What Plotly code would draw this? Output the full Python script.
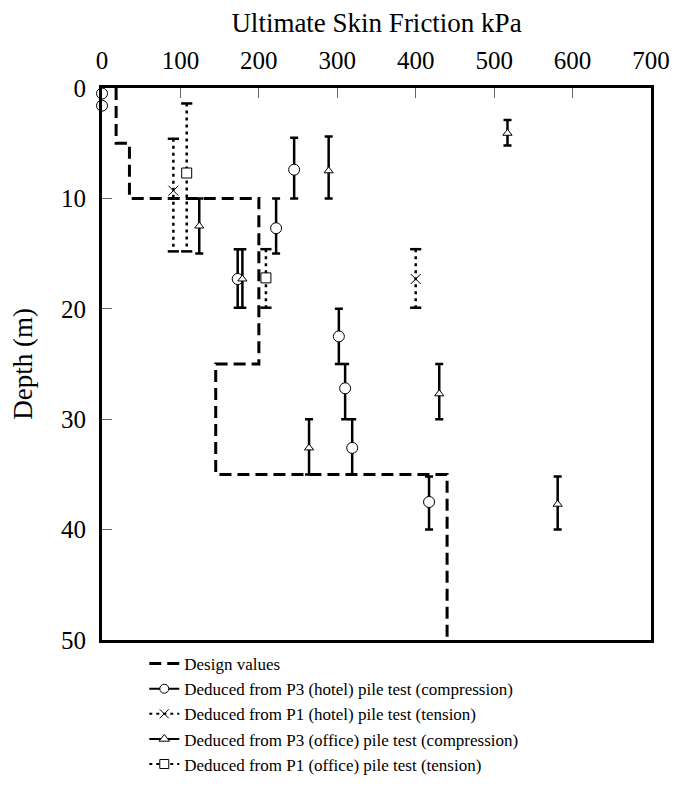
import plotly.graph_objects as go

FONT = "Liberation Serif"

# design values: stepped profile (depth breaks, friction over each layer)
design_depth = [0, 5, 10, 25, 35, 50]
design_friction = [18, 35, 200, 145, 440, 440]

# P3 (hotel) compression - circles
p3h_friction = [0, 0, 245, 222, 173, 302, 310, 319, 417]
p3h_depth = [0.5, 1.6, 7.4, 12.7, 17.3, 22.5, 27.2, 32.6, 37.5]
p3h_top = [0.5, 1.6, 4.5, 10, 14.6, 20, 25, 30, 35.2]
p3h_bottom = [0.5, 1.6, 10, 15, 19.9, 25, 30, 35, 40]

# P1 (hotel) tension - crosses
p1h_friction = [91, 400]
p1h_depth = [9.3, 17.3]
p1h_top = [4.6, 14.6]
p1h_bottom = [14.8, 19.9]

# P3 (office) compression - triangles
p3o_friction = [517, 289, 124, 179, 430, 264, 581]
p3o_depth = [4.1, 7.5, 12.5, 17.3, 27.7, 32.6, 37.7]
p3o_top = [2.9, 4.4, 10, 14.6, 25, 30, 35.2]
p3o_bottom = [5.2, 10, 15, 19.9, 30, 35, 40]

# P1 (office) tension - squares
p1o_friction = [108, 209]
p1o_depth = [7.7, 17.2]
p1o_top = [1.4, 14.6]
p1o_bottom = [14.8, 19.9]

fig = go.Figure()

fig.add_trace(go.Scatter(
    x=design_friction, y=design_depth, mode="lines", line_shape="vh",
    line=dict(color="black", width=3, dash="12px,6px"), showlegend=False,
))


def marker_style(symbol, size):
    # open symbols take their stroke from marker.color
    if symbol.endswith("-open"):
        return dict(symbol=symbol, size=size, color="black", line=dict(color="black", width=1))
    return dict(symbol=symbol, size=size, color="white", line=dict(color="black", width=1))


def solid_series(fx, d, top, bot, symbol, size):
    fig.add_trace(go.Scatter(
        x=fx, y=d, mode="markers", showlegend=False, cliponaxis=False,
        marker=marker_style(symbol, size),
        error_y=dict(type="data", symmetric=False,
                     array=[b - v for b, v in zip(bot, d)],
                     arrayminus=[v - t for t, v in zip(top, d)],
                     color="black", thickness=2.5, width=4),
    ))


def dotted_series(fx, d, top, bot, symbol, size):
    xs, ys = [], []
    for f, t, b in zip(fx, top, bot):
        xs += [f, f, None]
        ys += [t, b, None]
    fig.add_trace(go.Scatter(
        x=xs, y=ys, mode="lines", showlegend=False,
        line=dict(color="black", width=2.5, dash="3px,4px"),
    ))
    fig.add_trace(go.Scatter(
        x=fx + fx, y=top + bot, mode="markers", showlegend=False,
        marker=dict(symbol="line-ew", size=8, line=dict(color="black", width=2.5)),
    ))
    fig.add_trace(go.Scatter(
        x=fx, y=d, mode="markers", showlegend=False,
        marker=marker_style(symbol, size),
    ))


solid_series(p3h_friction, p3h_depth, p3h_top, p3h_bottom, "circle", 11)
dotted_series(p1h_friction, p1h_depth, p1h_top, p1h_bottom, "x-thin-open", 10)
solid_series(p3o_friction, p3o_depth, p3o_top, p3o_bottom, "triangle-up", 8)
dotted_series(p1o_friction, p1o_depth, p1o_top, p1o_bottom, "square", 10)

# legend entries
legend_items = [
    ("Design values", "12px,6px", None, 3),
    ("Deduced from P3 (hotel) pile test (compression)", "solid", "circle", 2),
    ("Deduced from P1 (hotel) pile test (tension)", "3px,4px", "x-thin-open", 2),
    ("Deduced from P3 (office) pile test (compression)", "solid", "triangle-up", 2),
    ("Deduced from P1 (office) pile test (tension)", "3px,4px", "square", 2),
]
for name, dash, sym, w in legend_items:
    fig.add_trace(go.Scatter(
        x=[None], y=[None], name=name,
        mode="lines" if sym is None else "lines+markers",
        line=dict(color="black", width=w, dash=dash),
        marker=marker_style(sym or "circle", 9),
    ))

axis_common = dict(
    showline=True, linecolor="black", linewidth=3, mirror=True,
    ticks="inside", ticklen=10, tickwidth=1, tickcolor="#666",
    showgrid=False, zeroline=False,
)

# body margin of the page is 8px, so the figure is 8px smaller than the window
fig.update_layout(
    width=674, height=795,
    margin=dict(l=92, r=24, t=74, b=163),
    paper_bgcolor="white", plot_bgcolor="white",
    font=dict(family=FONT, color="black", size=18),
    xaxis=dict(
        axis_common, side="top", range=[0, 700], dtick=100,
        tickfont=dict(family=FONT, size=25), ticklabelstandoff=6,
        title=dict(text="Ultimate Skin Friction kPa", font=dict(family=FONT, size=27), standoff=8),
    ),
    yaxis=dict(
        axis_common, range=[50, 0], dtick=10,
        tickfont=dict(family=FONT, size=25), ticklabelstandoff=8,
        title=dict(text="Depth (m)", font=dict(family=FONT, size=27), standoff=22),
    ),
    legend=dict(
        x=0.077, y=-0.011, xanchor="left", yanchor="top",
        font=dict(family=FONT, size=17), bgcolor="rgba(0,0,0,0)", tracegroupgap=0,
    ),
)

fig.write_html("out.html")
